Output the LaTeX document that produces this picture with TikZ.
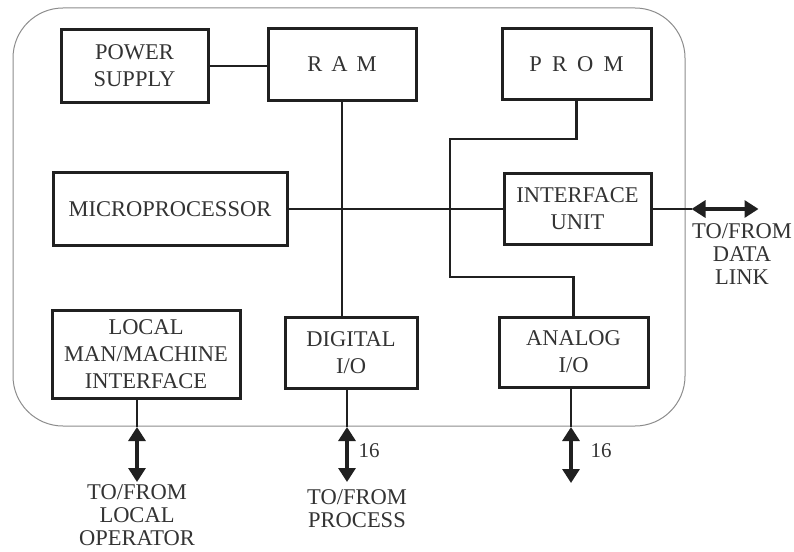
\documentclass[tikz,border=0pt]{standalone}
\usepackage{fontspec}
\setmainfont{Liberation Serif}
\usetikzlibrary{arrows.meta, positioning}
\definecolor{ink}  {HTML}{202020}
\definecolor{txt}  {HTML}{333333}
\definecolor{frame}{HTML}{8C8C8C}

\begin{document}
\begin{tikzpicture}[x=1pt, y=-1pt, font=\fontsize{22.5}{27}\selectfont, text=txt,
    unit/.style={draw=ink, line width=3pt, align=center, inner sep=0pt},
    link/.style={draw=ink, line width=2.6pt},
    bus/.style={draw=ink, line width=3.2pt, {Triangle[length=14pt,width=17pt]}-{Triangle[length=14pt,width=17pt]}},
    note/.style={align=center, inner sep=0pt, font=\fontsize{22.5}{23}\selectfont}]
  \useasboundingbox (0,0) rectangle (794,551);
  \draw[frame, line width=1pt, rounded corners=50pt] (13,8) rectangle (685,426);

  % boxes
  \node[unit, minimum width=147pt, minimum height=72pt] (psu) at (134.5,66) {POWER\\SUPPLY};
  \node[unit, minimum width=148pt, minimum height=71pt] (ram) at (342,64.5) {R\hspace{.4em}A\hspace{.4em}M};
  \node[unit, minimum width=149pt, minimum height=71pt] (prom) at (576.5,64) {P\hspace{.45em}R\hspace{.45em}O\hspace{.45em}M};
  \node[unit, minimum width=234pt, minimum height=73pt] (cpu) at (170,209) {MICROPROCESSOR};
  \node[unit, minimum width=147pt, minimum height=71pt] (iface) at (577.5,209) {INTERFACE\\UNIT};
  \node[unit, minimum width=188pt, minimum height=88pt] (mmi) at (146,354) {LOCAL\\MAN/MACHINE\\INTERFACE};
  \node[unit, minimum width=132pt, minimum height=71pt] (dio) at (351,352.5) {DIGITAL\\I/O};
  \node[unit, minimum width=149pt, minimum height=70pt] (aio) at (573.5,352) {ANALOG\\I/O};

  % bus points
  \coordinate (dlA) at ([xshift=39pt]iface.east);
  \coordinate (dlB) at ([xshift=106pt]iface.east);
  \coordinate (opA) at (137,427);
  \coordinate (opB) at (137,482);
  \coordinate (prA) at (347,427);
  \coordinate (prB) at (347,482);
  \coordinate (anA) at (571,427);
  \coordinate (anB) at (571,483);
  \coordinate (pb1) at (450,139);
  \coordinate (pb2) at (450,277);

  % connectors
  \draw[draw=ink, line width=1.1pt] (cpu.east) -- (cpu.east -| iface.west);
  \draw[link] (psu.east) -- (psu.east -| ram.west);
  \draw[link] (ram.south) -- (ram.south |- dio.north);
  \draw[link] (prom.south) |- (pb1) -- (pb2) -| (aio.north);
  \draw[link] (iface.east) -- (dlA);
  \draw[bus] (dlA) -- (dlB);
  \draw[link] (mmi.south -| opA) -- (opA);
  \draw[bus] (opA) -- (opB);
  \draw[link] (dio.south -| prA) -- (prA);
  \draw[bus] (prA) -- (prB);
  \draw[link] (aio.south -| anA) -- (anA);
  \draw[bus] (anA) -- (anB);

  % outside labels
  \node[note] (dllbl) at (742,254) {TO/FROM\\DATA\\LINK};
  \node[note] (oplbl) at (137,515) {TO/FROM\\LOCAL\\OPERATOR};
  \node[note] (prlbl) at (357,509) {TO/FROM\\PROCESS};
  \node[font=\fontsize{21}{24}\selectfont] (prnum) at (369,451) {16};
  \node[font=\fontsize{21}{24}\selectfont] (annum) at (601,451) {16};
\end{tikzpicture}
\end{document}
